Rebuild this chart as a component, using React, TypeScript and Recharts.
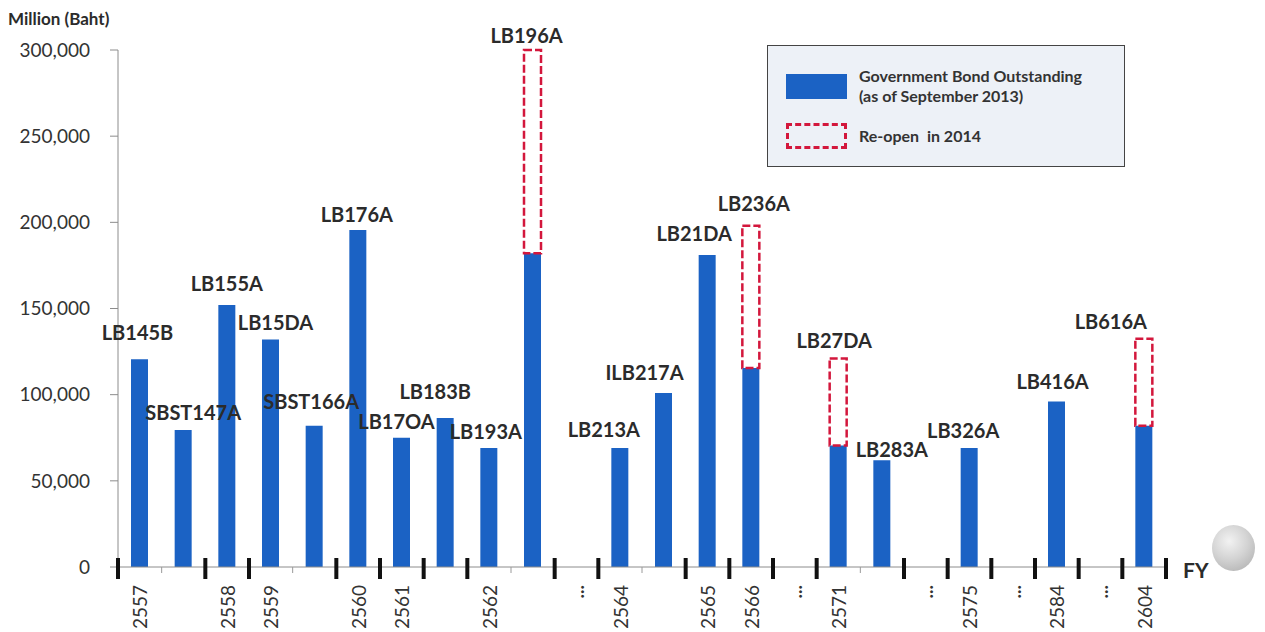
import { BarChart, Bar, XAxis, YAxis, LabelList, Legend } from 'recharts'

// One slot per bond; empty names are the "..." gaps between fiscal years
const bonds = [
  'LB145B', 'SBST147A', 'LB155A', 'LB15DA', 'SBST166A', 'LB176A', 'LB17OA', 'LB183B',
  'LB193A', 'LB196A', '', 'LB213A', 'ILB217A', 'LB21DA', 'LB236A', '', 'LB27DA',
  'LB283A', '', 'LB326A', '', 'LB416A', '', 'LB616A',
]
// Million baht outstanding as of September 2013
const outstanding = [
  120500, 79500, 152000, 132000, 82000, 195500, 75000, 86500,
  69000, 182000, null, 69000, 101000, 181000, 115500, null, 70500,
  62000, null, 69000, null, 96000, null, 82000,
]
// Extra size planned when the bond is re-opened in 2014
const reopen = [
  null, null, null, null, null, null, null, null,
  null, 118000, null, null, null, null, 82500, null, 50500,
  null, null, null, null, null, null, 50500,
]
const fiscalYears = [
  '2557', '', '2558', '2559', '', '2560', '2561', '',
  '2562', '', '...', '2564', '', '2565', '2566', '...', '2571',
  '', '...', '2575', '...', '2584', '...', '2604',
]
// slots sharing a number fall in the same fiscal year (no separator between them)
const fiscalGroup = [0, 0, 1, 2, 2, 3, 4, 5, 6, 6, 7, 8, 8, 9, 10, 11, 12, 12, 13, 14, 15, 16, 17, 18]
const yTicks = [0, 50000, 100000, 150000, 200000, 250000, 300000]

const W = 1265
const H = 632
const MARGIN = { top: 50, right: 99, bottom: 0, left: 18 }
const Y_AXIS_W = 100
const X_AXIS_H = 65
const PLOT_LEFT = MARGIN.left + Y_AXIS_W
const PLOT_RIGHT = W - MARGIN.right
const AXIS_Y = H - MARGIN.bottom - X_AXIS_H
const BAND = (PLOT_RIGHT - PLOT_LEFT) / bonds.length

const BLUE = '#1b62c4'
const RED = '#d3173c'
const INK = '#2b2b2b'
const FONT = 'Lato, "Open Sans", sans-serif'

const chartData = bonds.map((bond, i) => ({
  slot: i,
  bond,
  outstanding: outstanding[i],
  reopen: reopen[i],
}))

// hand placement of the bond names so they clear neighbouring bars
const labelNudge: Record<string, [number, number]> = {
  LB145B: [-2, -8], SBST147A: [10, 1], LB155A: [0, -3], LB15DA: [5, 1],
  SBST166A: [-3, -6], LB176A: [-1, 3], LB17OA: [-5, 2], LB183B: [-10, -8],
  LB193A: [-3, 2], LB196A: [-6, 4], LB213A: [-16, 0], ILB217A: [-19, -2],
  LB21DA: [-13, -3], LB236A: [3, -4], LB27DA: [-4, 1], LB283A: [10, 8],
  LB326A: [-6, 1], LB416A: [-4, -2], LB616A: [-33, 1],
}

function bondLabel(onReopen: boolean) {
  return (props: any) => {
    const name = props.value as string
    if (!name) return null
    const i = bonds.indexOf(name)
    if ((reopen[i] != null) !== onReopen) return null
    const box = props.viewBox ?? props
    const [dx, dy] = labelNudge[name] ?? [0, 0]
    return (
      <text
        x={box.x + box.width / 2 + dx}
        y={box.y - 11 + dy}
        textAnchor="middle"
        fontFamily={FONT}
        fontWeight={700}
        fontSize={20}
        fill={INK}
      >
        {name}
      </text>
    )
  }
}

function FiscalYearTick({ x, payload }: any) {
  const i = Number(payload.value)
  const left = x - BAND / 2
  const startsYear = i === 0 || fiscalGroup[i] !== fiscalGroup[i - 1]
  const labelY = AXIS_Y + 18
  return (
    <g>
      {startsYear ? (
        <rect x={left - 2} y={AXIS_Y - 9} width={4} height={21} fill="#111" />
      ) : (
        <line x1={left} x2={left} y1={AXIS_Y} y2={AXIS_Y + 6} stroke="#9a9a9a" />
      )}
      {i === bonds.length - 1 && (
        <rect x={x + BAND / 2 - 2} y={AXIS_Y - 9} width={4} height={21} fill="#111" />
      )}
      {fiscalYears[i] && (
        <text
          x={x}
          y={labelY}
          transform={`rotate(-90, ${x}, ${labelY})`}
          textAnchor="end"
          dominantBaseline="central"
          fontFamily={FONT}
          fontSize={19}
          fontWeight={fiscalYears[i] === '...' ? 700 : 400}
          fill="#333"
        >
          {fiscalYears[i]}
        </text>
      )}
    </g>
  )
}

function LegendBox({ payload }: any) {
  const items = (payload ?? []) as any[]
  return (
    <div
      style={{
        boxSizing: 'border-box',
        width: 358,
        height: 122,
        border: '1.5px solid #444',
        background: '#edf1f7',
        padding: '20px 0 0 18px',
        fontFamily: FONT,
        fontWeight: 700,
        fontSize: 16,
        lineHeight: '20px',
        color: '#333',
      }}
    >
      {items.map((item) => {
        const dashed = item.dataKey === 'reopen'
        return (
          <div
            key={item.dataKey}
            style={{ display: 'flex', alignItems: 'center', marginBottom: 17 }}
          >
            <span
              style={{
                boxSizing: 'border-box',
                display: 'inline-block',
                width: 61,
                height: dashed ? 26 : 25,
                marginRight: 12,
                background: dashed ? 'transparent' : BLUE,
                border: dashed ? `3px dashed ${RED}` : 'none',
              }}
            />
            <span style={{ whiteSpace: 'pre' }}>{item.value}</span>
          </div>
        )
      })}
    </div>
  )
}

export default function App() {
  return (
    <div style={{ position: 'absolute', left: 0, top: 0, width: W, height: H, background: '#fff' }}>
      <BarChart width={W} height={H} data={chartData} margin={MARGIN} barSize={17}>
        <XAxis
          dataKey="slot"
          type="category"
          interval={0}
          height={X_AXIS_H}
          tickLine={false}
          axisLine={{ stroke: '#8c8c8c' }}
          tick={<FiscalYearTick />}
          label={() => (
            <text x={PLOT_RIGHT + 17} y={AXIS_Y + 11} fontFamily={FONT} fontWeight={700} fontSize={21} fill={INK}>
              FY
            </text>
          )}
        />
        <YAxis
          width={Y_AXIS_W}
          domain={[0, 300000]}
          ticks={yTicks}
          tickSize={8}
          tickMargin={20}
          tickFormatter={(v) => Number(v).toLocaleString('en-US')}
          tick={{ fill: '#333', fontSize: 19, fontFamily: FONT }}
          axisLine={{ stroke: '#8c8c8c' }}
          tickLine={{ stroke: '#8c8c8c' }}
          label={() => (
            <text x={8} y={25} fontFamily={FONT} fontWeight={700} fontSize={17} fill={INK}>
              Million (Baht)
            </text>
          )}
        />
        <Legend
          layout="horizontal"
          align="center"
          verticalAlign="middle"
          content={<LegendBox />}
          wrapperStyle={{ left: 767, top: 45, width: 358, height: 122 }}
        />
        <Bar
          dataKey="outstanding"
          name={'Government Bond Outstanding\n(as of September 2013)'}
          stackId="bond"
          fill={BLUE}
          isAnimationActive={false}
        >
          <LabelList dataKey="bond" content={bondLabel(false)} />
        </Bar>
        <Bar
          dataKey="reopen"
          name="Re-open  in 2014"
          stackId="bond"
          fill="none"
          stroke={RED}
          strokeWidth={2.5}
          strokeDasharray="8 3"
          isAnimationActive={false}
        >
          <LabelList dataKey="bond" content={bondLabel(true)} />
        </Bar>
      </BarChart>
      <div
        style={{
          position: 'absolute',
          left: 1212,
          top: 525,
          width: 43,
          height: 46,
          borderRadius: '50%',
          background: 'radial-gradient(circle at 40% 35%, #f2f2f2 0%, #d4d4d4 45%, #a9a9a9 100%)',
        }}
      />
    </div>
  )
}
